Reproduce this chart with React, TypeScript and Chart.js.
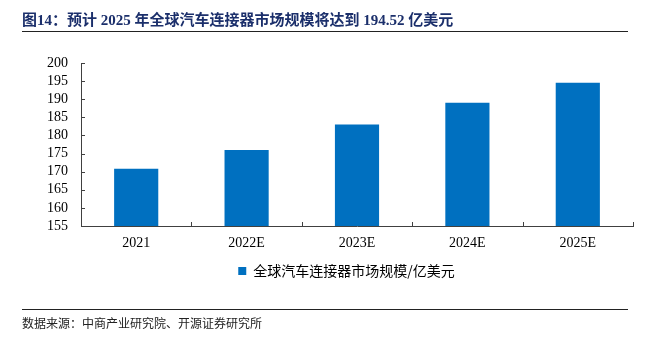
import { useEffect, useRef } from "react";
import { Chart, registerables } from "chart.js";

Chart.register(...registerables);

const categories = ["2021", "2022E", "2023E", "2024E", "2025E"];
const marketSize = [170.8, 176.0, 183.0, 189.0, 194.52];
const seriesName = "全球汽车连接器市场规模/亿美元";
const yMin = 155;
const yMax = 200;
const yStep = 5;
const titleText = "图14：预计 2025 年全球汽车连接器市场规模将达到 194.52 亿美元";
const sourceText = "数据来源：中商产业研究院、开源证券研究所";

const BAR_COLOR = "#0070C0";
const AXIS_COLOR = "#404040";
const SERIF = "'Times New Roman', 'Liberation Serif', serif";
const CJK = "'Noto Sans CJK SC', sans-serif";
const LEGEND_DX = 30;

const innerTicks = {
  id: "innerTicks",
  afterDatasetsDraw(chart: any) {
    const { ctx, chartArea } = chart;
    const x = chart.scales.x;
    const y = chart.scales.y;
    ctx.save();
    ctx.strokeStyle = AXIS_COLOR;
    ctx.lineWidth = 1;
    ctx.beginPath();
    y.ticks.forEach((_t: any, i: number) => {
      const py = Math.round(y.getPixelForTick(i)) + 0.5;
      ctx.moveTo(chartArea.left, py);
      ctx.lineTo(chartArea.left + 4, py);
    });
    const n = categories.length;
    for (let i = 0; i <= n; i++) {
      let px: number;
      if (i === 0) px = x.left;
      else if (i === n) px = x.right;
      else px = (x.getPixelForValue(i - 1) + x.getPixelForValue(i)) / 2;
      px = Math.round(px) + 0.5;
      ctx.moveTo(px, chartArea.bottom);
      ctx.lineTo(px, chartArea.bottom - 4);
    }
    ctx.stroke();
    ctx.restore();
  },
};

const legendShift = {
  id: "legendShift",
  afterLayout(chart: any) {
    const l = chart.legend;
    if (l) {
      l.left += LEGEND_DX;
      l.right += LEGEND_DX;
    }
  },
};

export default function App() {
  const ref = useRef<HTMLCanvasElement | null>(null);

  useEffect(() => {
    if (!ref.current) return;
    const chart = new Chart(ref.current, {
      type: "bar",
      data: {
        labels: categories,
        datasets: [
          {
            label: seriesName,
            data: marketSize,
            backgroundColor: BAR_COLOR,
            borderWidth: 0,
            barPercentage: 0.4,
            categoryPercentage: 1,
          },
        ],
      },
      options: {
        responsive: false,
        animation: false,
        devicePixelRatio: 1,
        layout: { padding: { top: 63, left: 0, right: 18, bottom: 49 } },
        plugins: {
          tooltip: { enabled: false },
          legend: {
            display: true,
            position: "bottom",
            labels: {
              boxWidth: 8,
              boxHeight: 8,
              padding: 10,
              color: "#000",
              font: { size: 14, family: CJK },
            },
          },
        },
        scales: {
          x: {
            grid: { display: false, drawTicks: false },
            border: { display: true, color: AXIS_COLOR, width: 1 },
            ticks: {
              color: "#000",
              padding: 9,
              font: { size: 14, family: SERIF },
              maxRotation: 0,
              autoSkip: false,
            },
            afterFit: (s: any) => {
              s.height = 28;
            },
          },
          y: {
            min: yMin,
            max: yMax,
            grid: { display: false, drawTicks: false },
            border: { display: true, color: AXIS_COLOR, width: 1 },
            ticks: {
              stepSize: yStep,
              autoSkip: false,
              color: "#000",
              padding: 13,
              font: { size: 14, family: SERIF },
            },
            afterFit: (s: any) => {
              s.width = 81;
            },
          },
        },
      },
      plugins: [innerTicks, legendShift],
    });
    return () => chart.destroy();
  }, []);

  return (
    <div style={{ position: "absolute", left: 0, top: 0, width: 651, height: 337, background: "#fff" }}>
      <canvas ref={ref} width={651} height={337} style={{ position: "absolute", left: 0, top: 0, width: 651, height: 337 }} />
      <div
        style={{
          position: "absolute",
          left: 22,
          top: 11,
          fontSize: 15,
          lineHeight: "18px",
          fontWeight: "bold",
          color: "#1B2F6B",
          fontFamily: "'Times New Roman', 'Liberation Serif', 'Noto Sans CJK SC', serif",
          whiteSpace: "nowrap",
        }}
      >
        {titleText}
      </div>
      <div style={{ position: "absolute", left: 22, top: 31, width: 606, height: 1, background: "#222" }} />
      <div style={{ position: "absolute", left: 22, top: 309, width: 606, height: 1, background: "#222" }} />
      <div
        style={{
          position: "absolute",
          left: 22,
          top: 316,
          fontSize: 12,
          lineHeight: "14px",
          color: "#222",
          fontFamily: CJK,
          whiteSpace: "nowrap",
        }}
      >
        {sourceText}
      </div>
    </div>
  );
}
